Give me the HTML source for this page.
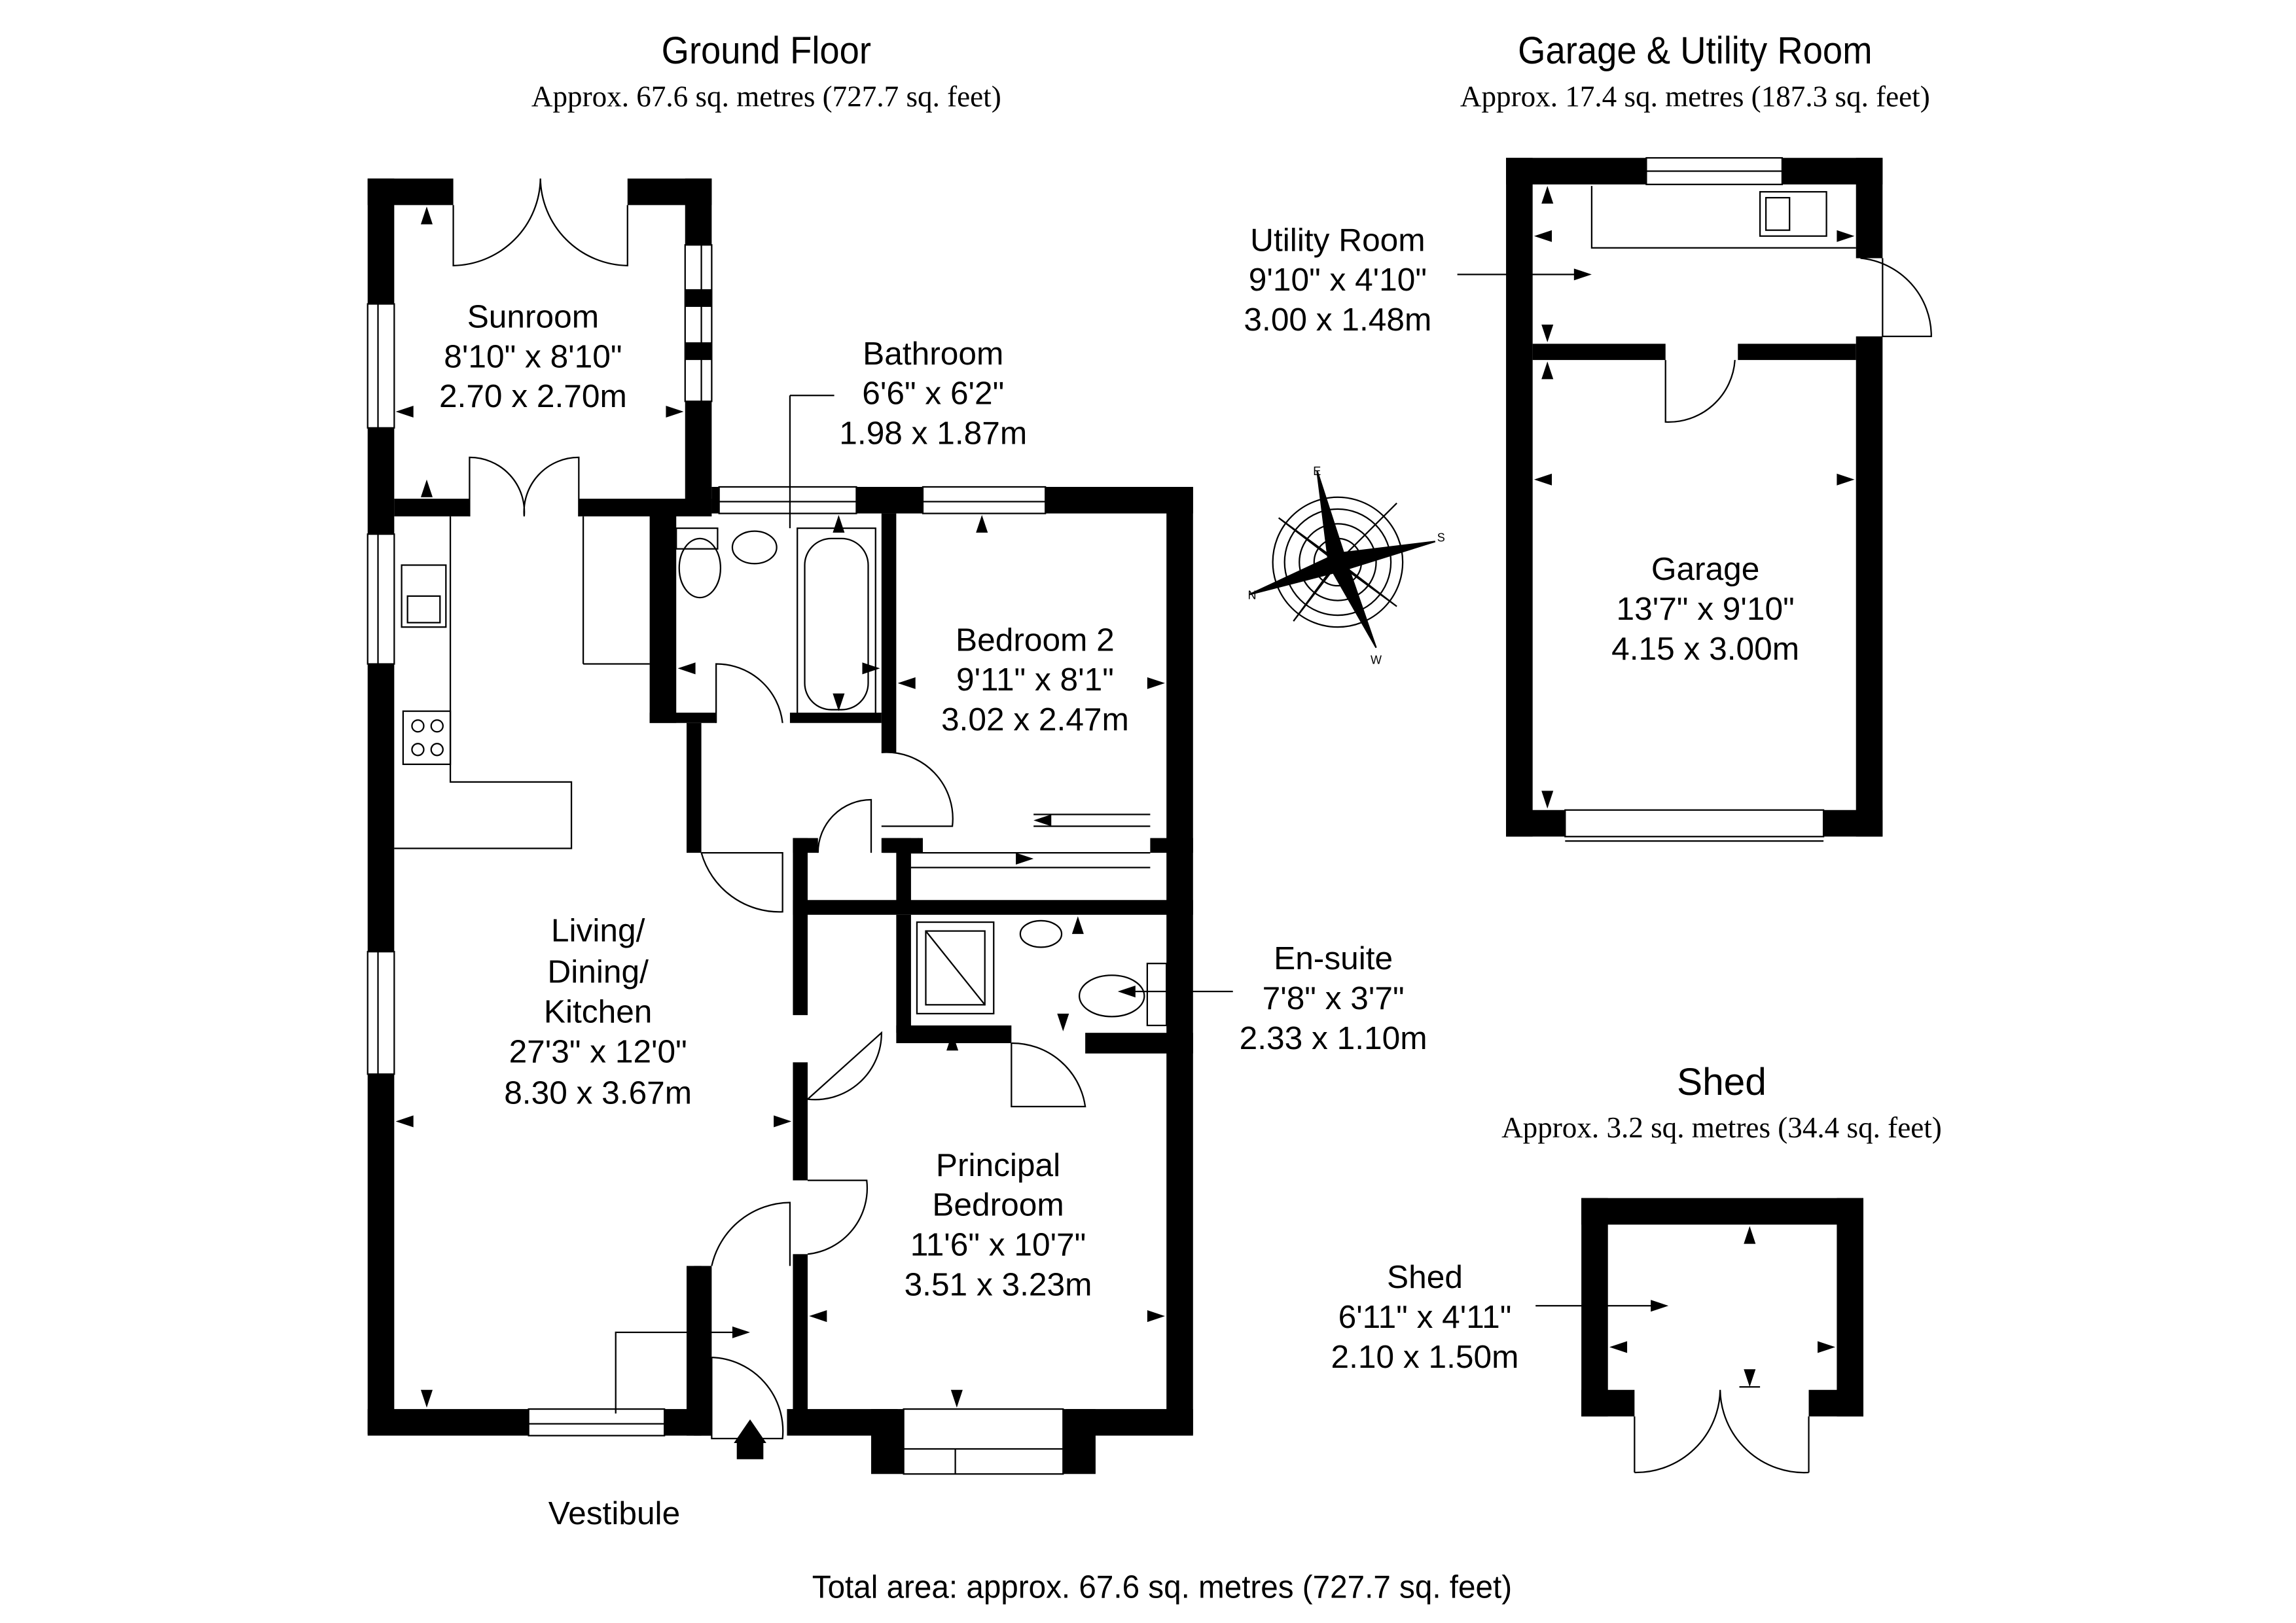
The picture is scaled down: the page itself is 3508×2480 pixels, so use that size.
<!DOCTYPE html>
<html><head><meta charset="utf-8"><style>
html,body{margin:0;padding:0;background:#fff}
svg{display:block}
text{font-family:"Liberation Sans",sans-serif;fill:#000}
.s{font-family:"Liberation Serif",serif}
</style></head><body>
<svg width="3508" height="2480" viewBox="0 0 1555 1100" preserveAspectRatio="none" xmlns="http://www.w3.org/2000/svg">
<rect width="1555" height="1100" fill="#fff"/>
<g text-anchor="middle">
<text x="519" y="43" font-size="26" textLength="142" lengthAdjust="spacingAndGlyphs">Ground Floor</text>
<text x="519" y="72" font-size="20" class="s">Approx. 67.6 sq. metres (727.7 sq. feet)</text>
<text x="1148" y="43" font-size="26" textLength="240" lengthAdjust="spacingAndGlyphs">Garage &amp; Utility Room</text>
<text x="1148" y="72" font-size="20" class="s">Approx. 17.4 sq. metres (187.3 sq. feet)</text>
<text x="1166" y="742" font-size="26">Shed</text>
<text x="1166" y="771" font-size="20" class="s">Approx. 3.2 sq. metres (34.4 sq. feet)</text>
<text x="787" y="1083" font-size="22" textLength="474" lengthAdjust="spacingAndGlyphs">Total area: approx. 67.6 sq. metres (727.7 sq. feet)</text>
<g font-size="22">
<text x="361" y="222">Sunroom</text><text x="361" y="249">8'10" x 8'10"</text><text x="361" y="276">2.70 x 2.70m</text>
<text x="632" y="247">Bathroom</text><text x="632" y="274">6'6" x 6'2"</text><text x="632" y="301">1.98 x 1.87m</text>
<text x="701" y="441">Bedroom 2</text><text x="701" y="468">9'11" x 8'1"</text><text x="701" y="495">3.02 x 2.47m</text>
<text x="405" y="638">Living/</text><text x="405" y="666">Dining/</text><text x="405" y="693">Kitchen</text><text x="405" y="720">27'3" x 12'0"</text><text x="405" y="748">8.30 x 3.67m</text>
<text x="903" y="657">En-suite</text><text x="903" y="684">7'8" x 3'7"</text><text x="903" y="711">2.33 x 1.10m</text>
<text x="676" y="797">Principal</text><text x="676" y="824">Bedroom</text><text x="676" y="851">11'6" x 10'7"</text><text x="676" y="878">3.51 x 3.23m</text>
<text x="416" y="1033">Vestibule</text>
<text x="906" y="170">Utility Room</text><text x="906" y="197">9'10" x 4'10"</text><text x="906" y="224">3.00 x 1.48m</text>
<text x="1155" y="393">Garage</text><text x="1155" y="420">13'7" x 9'10"</text><text x="1155" y="447">4.15 x 3.00m</text>
<text x="965" y="873">Shed</text><text x="965" y="900">6'11" x 4'11"</text><text x="965" y="927">2.10 x 1.50m</text>
</g></g>
<g fill="#000">
<rect x="249" y="121" width="58" height="18"/><rect x="425" y="121" width="57" height="18"/>
<rect x="249" y="121" width="18" height="85"/><rect x="249" y="290" width="18" height="72"/>
<rect x="249" y="450" width="18" height="195"/><rect x="249" y="728" width="18" height="244"/>
<rect x="464" y="121" width="18" height="45"/><rect x="464" y="272" width="18" height="76"/>
<rect x="464" y="196" width="18" height="12"/><rect x="464" y="232" width="18" height="12"/>
<rect x="267" y="338" width="51" height="12"/><rect x="392" y="338" width="90" height="12"/>
<rect x="482" y="330" width="5" height="18"/><rect x="580" y="330" width="45" height="18"/><rect x="708" y="330" width="100" height="18"/>
<rect x="790" y="330" width="18" height="642"/>
<rect x="249" y="955" width="109" height="18"/><rect x="450" y="955" width="32" height="18"/>
<rect x="533" y="955" width="75" height="18"/><rect x="722" y="955" width="86" height="18"/>
<rect x="590" y="955" width="22" height="44"/><rect x="720" y="955" width="22" height="44"/>
<rect x="440" y="348" width="18" height="142"/><rect x="440" y="483" width="45" height="7"/>
<rect x="535" y="483" width="62" height="7"/>
<rect x="597" y="348" width="10" height="162"/>
<rect x="465" y="490" width="10" height="88"/>
<rect x="537" y="568" width="17" height="10"/><rect x="537" y="568" width="10" height="120"/>
<rect x="597" y="568" width="10" height="10"/><rect x="607" y="568" width="10" height="50"/>
<rect x="598" y="568" width="27" height="10"/><rect x="779" y="568" width="29" height="10"/>
<rect x="537" y="610" width="271" height="10"/>
<rect x="537" y="720" width="10" height="80"/><rect x="537" y="850" width="10" height="120"/>
<rect x="607" y="620" width="10" height="80"/><rect x="607" y="695" width="78" height="12"/>
<rect x="735" y="700" width="73" height="14"/>
<rect x="465" y="858" width="10" height="115"/><rect x="470" y="858" width="12" height="115"/>
<rect x="499" y="975" width="18" height="14"/><polygon points="508,962 497,978 519,978"/>
</g>
<g fill="none" stroke="#000" stroke-width="1">
<rect x="249" y="206" width="18" height="84"/><line x1="256" y1="206" x2="256" y2="290"/>
<rect x="249" y="362" width="18" height="88"/><line x1="256" y1="362" x2="256" y2="450"/>
<rect x="249" y="645" width="18" height="83"/><line x1="256" y1="645" x2="256" y2="728"/>
<rect x="464" y="166" width="18" height="106"/><line x1="475" y1="166" x2="475" y2="272"/>
<rect x="487" y="330" width="93" height="18"/><line x1="487" y1="340" x2="580" y2="340"/>
<rect x="625" y="330" width="83" height="18"/><line x1="625" y1="340" x2="708" y2="340"/>
<rect x="358" y="955" width="92" height="18"/><line x1="358" y1="965" x2="450" y2="965"/>
<rect x="612" y="955" width="108" height="44"/><line x1="612" y1="982" x2="720" y2="982"/><line x1="647" y1="982" x2="647" y2="999"/>
<path d="M307,139 L307,180 A60,60 0 0 0 366,121 M425,139 L425,180 A60,60 0 0 1 366,121"/>
<path d="M318,350 L318,310 A37,37 0 0 1 355,350 M392,350 L392,310 A37,37 0 0 0 355,350"/>
<line x1="395" y1="350" x2="395" y2="450"/><line x1="395" y1="450" x2="440" y2="450"/>
<path d="M267,575 L387,575 L387,530 L305,530 L305,350"/>
<rect x="272" y="383" width="30" height="42"/><rect x="276" y="404" width="22" height="18"/>
<rect x="273" y="482" width="32" height="36"/><circle cx="283" cy="492" r="4"/><circle cx="296" cy="492" r="4"/><circle cx="283" cy="508" r="4"/><circle cx="296" cy="508" r="4"/>
<path d="M485,490 L485,450 A45,45 0 0 1 530,490"/>
<path d="M475,578 L530,578 L530,618 A55,55 0 0 1 475,578"/>
<path d="M597,510 A45,45 0 0 1 645,560 L597,560"/>
<path d="M590,578 L590,542 A36,36 0 0 0 554,578"/>
<path d="M617,578 L779,578 M617,588 L779,588 M622,568 L622,578 M700,560 L779,560 M700,552 L779,552"/>
<path d="M547,745 L597,700 A45,45 0 0 1 547,745"/>
<path d="M685,707 L685,750 L735,750 A50,50 0 0 0 685,707"/>
<path d="M547,800 L587,800 A45,45 0 0 1 547,850"/>
<path d="M482,858 A55,55 0 0 1 535,815 L535,858"/>
<path d="M482,920 L482,975 L530,975 A50,50 0 0 0 482,920"/>
<polyline points="417,958 417,903 505,903"/>
<rect x="621" y="625" width="52" height="62"/><rect x="627" y="631" width="40" height="50"/><line x1="627" y1="631" x2="667" y2="681"/>
<ellipse cx="705" cy="633" rx="14" ry="9"/><ellipse cx="753" cy="675" rx="22" ry="14"/><rect x="777" y="653" width="13" height="42"/>
<ellipse cx="474" cy="385" rx="14" ry="20"/><rect x="458" y="358" width="28" height="14"/><ellipse cx="511" cy="371" rx="15" ry="11"/>
<rect x="540" y="358" width="53" height="128"/><rect x="545" y="365" width="43" height="116" rx="18"/>
<line x1="535" y1="268" x2="565" y2="268"/><line x1="535" y1="268" x2="535" y2="358"/>
<line x1="987" y1="186" x2="1075" y2="186"/>
<line x1="760" y1="672" x2="835" y2="672"/>
<line x1="1040" y1="885" x2="1125" y2="885"/>
</g>
<g fill="#000">
<polygon points="289,140 285,152 293,152"/><polygon points="268,279 280,275 280,283"/><polygon points="463,279 451,275 451,283"/>
<polygon points="289,350 285,338 293,338"/><polygon points="289,325 285,337 293,337"/>
<polygon points="268,760 280,756 280,764"/><polygon points="536,760 524,756 524,764"/><polygon points="289,954 285,942 293,942"/>
<polygon points="459,453 471,449 471,457"/><polygon points="596,453 584,449 584,457"/><polygon points="568,349 564,361 572,361"/><polygon points="568,482 564,470 572,470"/>
<polygon points="665,349 661,361 669,361"/><polygon points="608,463 620,459 620,467"/><polygon points="789,463 777,459 777,467"/>
<polygon points="700,556 712,552 712,560"/><polygon points="700,582 688,578 688,586"/>
<polygon points="730,621 726,633 734,633"/><polygon points="720,699 716,687 724,687"/><polygon points="645,700 641,712 649,712"/>
<polygon points="548,892 560,888 560,896"/><polygon points="789,892 777,888 777,896"/><polygon points="648,954 644,942 652,942"/>
<polygon points="508,903 496,899 496,907"/><polygon points="1078,186 1066,182 1066,190"/><polygon points="757,672 769,668 769,676"/><polygon points="1130,885 1118,881 1118,889"/>
</g>
<g fill="#000">
<rect x="1020" y="107" width="95" height="18"/><rect x="1207" y="107" width="68" height="18"/>
<rect x="1020" y="107" width="18" height="460"/><rect x="1257" y="107" width="18" height="68"/><rect x="1257" y="228" width="18" height="339"/>
<rect x="1020" y="549" width="40" height="18"/><rect x="1235" y="549" width="40" height="18"/>
<rect x="1038" y="233" width="90" height="11"/><rect x="1177" y="233" width="80" height="11"/>
<polygon points="1048,126 1044,138 1052,138"/><polygon points="1039,160 1051,156 1051,164"/><polygon points="1256,160 1244,156 1244,164"/>
<polygon points="1048,232 1044,220 1052,220"/><polygon points="1048,245 1044,257 1052,257"/><polygon points="1039,325 1051,321 1051,329"/><polygon points="1256,325 1244,321 1244,329"/><polygon points="1048,548 1044,536 1052,536"/>
<rect x="1071" y="812" width="191" height="18"/><rect x="1071" y="812" width="18" height="148"/><rect x="1244" y="812" width="18" height="148"/>
<rect x="1071" y="942" width="36" height="18"/><rect x="1225" y="942" width="37" height="18"/>
<polygon points="1185,831 1181,843 1189,843"/><polygon points="1090,913 1102,909 1102,917"/><polygon points="1243,913 1231,909 1231,917"/><polygon points="1185,940 1181,928 1189,928"/>
</g>
<g fill="none" stroke="#000" stroke-width="1">
<rect x="1115" y="107" width="92" height="18"/><line x1="1115" y1="116" x2="1207" y2="116"/>
<rect x="1060" y="549" width="175" height="18"/><line x1="1060" y1="570" x2="1235" y2="570"/>
<polyline points="1078,126 1078,168 1257,168"/><rect x="1192" y="130" width="45" height="30"/><rect x="1196" y="134" width="16" height="22"/>
<path d="M1275,175 L1275,228 L1308,228 A53,53 0 0 0 1260,175"/>
<path d="M1128,244 L1128,286 A45,45 0 0 0 1175,244"/>
<path d="M1107,998 A57,57 0 0 0 1165,942 M1225,998 A57,57 0 0 1 1165,942 M1107,960 L1107,998 M1225,960 L1225,998"/>
<line x1="1178" y1="940" x2="1192" y2="940"/>
</g>
<g transform="translate(906,381)" stroke="#000" fill="none" stroke-width="1">
<circle r="44"/><circle r="36"/><circle r="26"/><circle r="16"/>
<g fill="#000"><polygon points="-14,-62 6,0 -6,2"/><polygon points="26,58 6,0 -6,2"/><polygon points="-60,22 0,-6 2,6"/><polygon points="66,-14 0,-6 2,6"/>
<polygon points="-40,-30 -3,-3 3,3"/><polygon points="40,30 -3,-3 3,3"/><polygon points="-30,40 3,-3 -3,3"/><polygon points="40,-40 3,-3 -3,3"/></g>
</g>
<g font-size="8" text-anchor="middle"><text x="892" y="322">E</text><text x="976" y="367">S</text><text x="848" y="406">N</text><text x="932" y="450">W</text></g>
</svg>
</body></html>
